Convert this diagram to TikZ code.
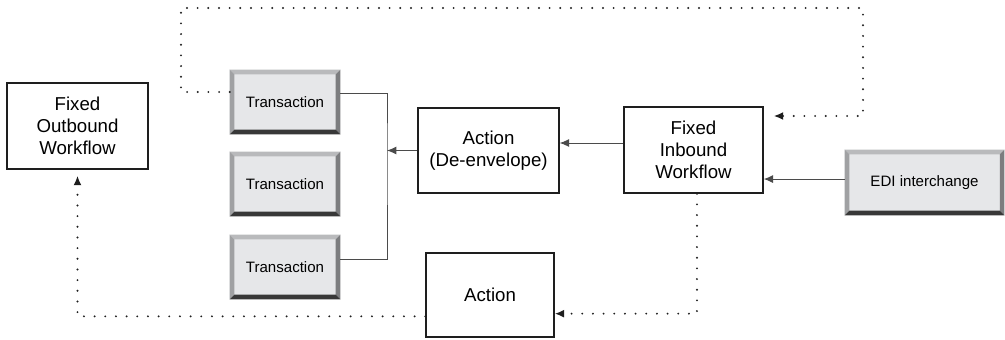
\documentclass[tikz,border=0pt]{standalone}
\usepackage{fontspec}
\setmainfont{Liberation Sans}
\usetikzlibrary{arrows.meta}

\definecolor{face}{HTML}{E6E7E9}
\definecolor{bevtop}{HTML}{B9BABC}
\definecolor{bevleft}{HTML}{A0A1A3}
\definecolor{bevright}{HTML}{7C7D7F}
\definecolor{bevbot}{HTML}{383838}
\definecolor{ink}{HTML}{1E1E1E}

\newcommand{\bw}{3.4pt}
\newcommand{\bevelframe}[1]{%
  \fill[bevtop] (#1.north west) -- (#1.north east) -- ([xshift=-\bw,yshift=-\bw]#1.north east) -- ([xshift=\bw,yshift=-\bw]#1.north west) -- cycle;
  \fill[bevleft] (#1.north west) -- ([xshift=\bw,yshift=-\bw]#1.north west) -- ([xshift=\bw,yshift=\bw]#1.south west) -- (#1.south west) -- cycle;
  \fill[bevright] (#1.north east) -- (#1.south east) -- ([xshift=-\bw,yshift=\bw]#1.south east) -- ([xshift=-\bw,yshift=-\bw]#1.north east) -- cycle;
  \fill[bevbot] (#1.south west) -- (#1.south east) -- ([xshift=-\bw,yshift=\bw]#1.south east) -- ([xshift=\bw,yshift=\bw]#1.south west) -- cycle;
}

\begin{document}
\begin{tikzpicture}[x=0.75pt,y=-0.75pt]
    \tikzstyle{block}=[draw=ink, line width=1.1pt, align=center, inner sep=0pt, font=\fontsize{14}{16.5}\selectfont]
    \tikzstyle{button}=[fill=face, inner sep=0pt, align=center, font=\fontsize{11.3}{13}\selectfont]
    \tikzstyle{conn}=[draw=ink!80, line width=0.7pt]
    \tikzstyle{arr}=[-{Latex[length=7pt,width=6pt]}]
    \tikzstyle{dots}=[draw=ink, line width=1.6pt, dash pattern=on 0pt off 8pt, line cap=round]

    \useasboundingbox (0,0) rectangle (1005,339);

    % Workflows
	\node[block, minimum width=105.75pt, minimum height=64.5pt] (outb) at (77.5,126) {Fixed\\Outbound\\Workflow};
	\node[block, minimum width=104.25pt, minimum height=64.5pt] (inb) at (693.5,150) {Fixed\\Inbound\\Workflow};

	% Actions
	\node[block, minimum width=105.75pt, minimum height=63.75pt] (deenv) at (488.5,150.5) {Action\\(De-envelope)};
	\node[block, minimum width=96pt, minimum height=63pt] (act) at (490,295) {Action};

	% Transactions
	\node[button, minimum width=82.5pt, minimum height=48pt] (t1) at (285,102) {Transaction};
	\node[button, minimum width=82.5pt, minimum height=48pt] (t2) at (285,184) {Transaction};
	\node[button, minimum width=82.5pt, minimum height=48pt] (t3) at (285,267) {Transaction};

	% Interchange
	\node[button, minimum width=119.25pt, minimum height=48.75pt] (edi) at (924.5,182.5) {EDI interchange};

	\foreach \n in {t1,t2,t3,edi} {\bevelframe{\n}}

    % Connections
	\coordinate (br) at (387,152);
	\draw[conn] ([yshift=6.75pt]t1.east) -| (br) |- ([yshift=6pt]t3.east);
	\draw[conn, arr] (deenv.west) -- (deenv.west -| br);

	\coordinate (i1) at ([yshift=5.25pt]inb.west);
	\draw[conn, arr] (i1) -- (i1 -| deenv.east);

	\coordinate (e1) at ([yshift=2.6pt]edi.west);
	\draw[conn, arr] (e1) -- (e1 -| inb.east);

	% Dotted returns
	\coordinate (lt) at (181,8);
	\coordinate (rt) at (863,8);
	\coordinate (ip) at ([xshift=7.5pt,yshift=25.5pt]inb.east);
	\draw[dots, arr] ([yshift=7.5pt]t1.west) -| (lt) -- (rt) |- (ip);

	\coordinate (ae) at ([yshift=-14pt]act.east);
	\draw[dots, arr] ([xshift=2.6pt]inb.south) |- (ae);

	\coordinate (ob) at ([yshift=-4.5pt]outb.south);
	\draw[dots, arr] ([yshift=-16pt]act.west) -| (ob);
\end{tikzpicture}
\end{document}
